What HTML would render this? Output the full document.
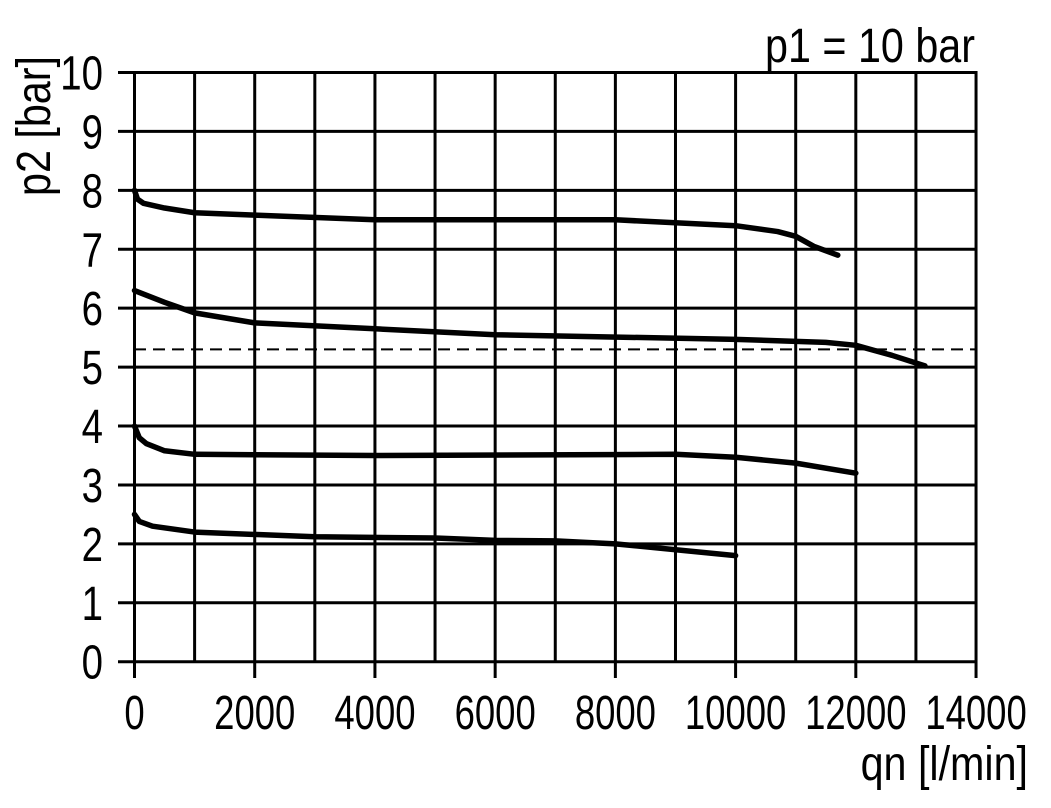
<!DOCTYPE html>
<html><head><style>
body{margin:0;background:#fff}
svg text{font-family:"Liberation Sans",sans-serif;fill:#000}
</style></head><body>
<svg id="s" width="1051" height="803" xmlns="http://www.w3.org/2000/svg"></svg>
<script>
const s=document.getElementById('s');
const X=q=>134.5+q*0.06011, Y=p=>661.7-p*58.92;
const T=(x,y,t,a,r,k)=>`<text transform="translate(${x},${y})${r?' rotate(-90)':''} scale(${k||0.86},1)" font-size="48" text-anchor="${a}">${t}</text>`;
let h='';
for(let i=0;i<=10;i++){const y=Y(i);h+=`<line x1="118" y1="${y}" x2="977" y2="${y}" stroke="#000" stroke-width="3"/>`;
h+=T(103,y+17,i,'end',0,0.8);}
for(let i=0;i<=14;i++){const x=X(i*1000);h+=`<line x1="${x}" y1="71" x2="${x}" y2="${i%2?663:678}" stroke="#000" stroke-width="3"/>`;
if(i%2==0)h+=T(x,729,i*1000,'middle',0,0.76);}
h+=`<line x1="134" y1="${Y(5.3)}" x2="977" y2="${Y(5.3)}" stroke="#000" stroke-width="2" stroke-dasharray="12,7"/>`;
const curves=[
[[0,8],[50,7.85],[150,7.78],[500,7.7],[1000,7.62],[2000,7.58],[4000,7.5],[8000,7.5],[10000,7.4],[10700,7.3],[11000,7.22],[11300,7.05],[11700,6.9]],
[[0,6.3],[250,6.2],[500,6.1],[1000,5.92],[2000,5.75],[4000,5.65],[6000,5.55],[10000,5.47],[11500,5.42],[12000,5.37],[12600,5.2],[13150,5.02]],
[[0,4],[80,3.8],[200,3.7],[500,3.58],[1000,3.52],[4000,3.5],[9000,3.52],[10000,3.47],[11000,3.37],[12000,3.2]],
[[0,2.5],[80,2.38],[300,2.3],[1000,2.2],[3000,2.12],[5000,2.1],[6000,2.06],[7000,2.05],[8000,2.0],[10000,1.8]]];
for(const c of curves){h+=`<polyline fill="none" stroke="#000" stroke-width="5.5" stroke-linejoin="round" stroke-linecap="round" points="${c.map(p=>X(p[0])+','+Y(p[1])).join(' ')}"/>`;}
h+=T(975,62,'p1 = 10 bar','end');
h+=T(1028,780,'qn [l/min]','end');
h+=T(50,126,'p2 [bar]','middle',true);
s.innerHTML=h;
</script>
</body></html>
